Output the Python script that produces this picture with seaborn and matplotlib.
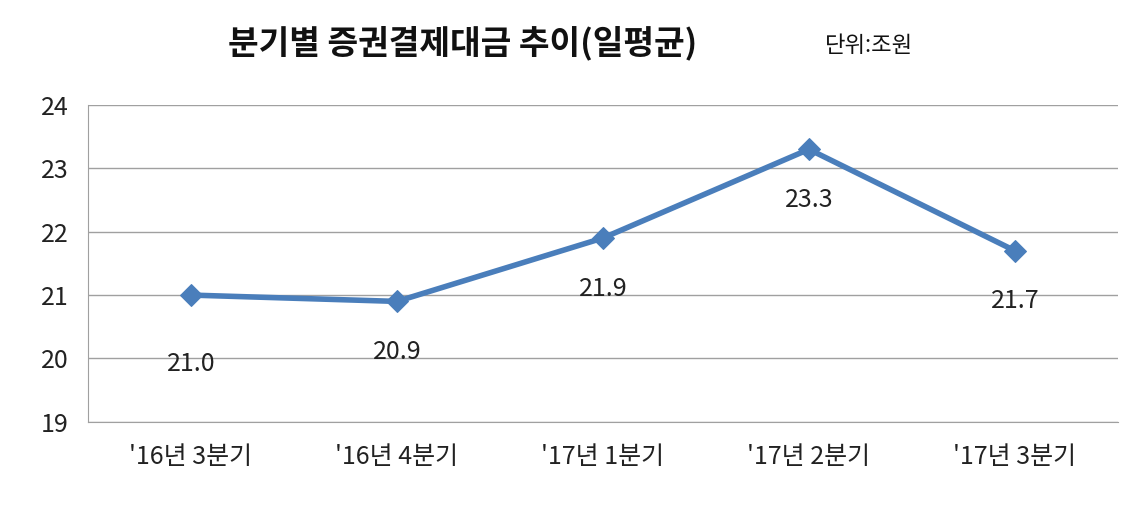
import seaborn as sns
import matplotlib.pyplot as plt
import pandas as pd

quarters = ["'16년 3분기", "'16년 4분기", "'17년 1분기", "'17년 2분기", "'17년 3분기"]
values = [21.0, 20.9, 21.9, 23.3, 21.7]
value_labels = ["21.0", "20.9", "21.9", "23.3", "21.7"]

sns.set_style("white")
plt.rcParams['font.family'] = ['Noto Sans CJK KR', 'DejaVu Sans']

df = pd.DataFrame({"q": range(len(quarters)), "v": values})

fig = plt.figure(figsize=(11.28, 5.07), dpi=100)
ax = fig.add_axes([0.078, 0.168, 0.913, 0.625])
sns.lineplot(data=df, x="q", y="v", ax=ax, color="#4A7EBB", linewidth=4,
             marker="D", markersize=11, markeredgecolor="#4A7EBB")

for i, (v, t) in enumerate(zip(values, value_labels)):
    off = 1.08 if i == 0 else 0.8
    ax.text(i, v - off, t, ha="center", va="center", fontsize=18, color="#222222")

ax.set_xlim(-0.5, 4.5)
ax.set_ylim(19, 24)
ax.set_yticks(range(19, 25))
ax.set_xticks(range(len(quarters)))
ax.set_xticklabels(quarters)
ax.tick_params(axis="both", labelsize=18, colors="#222222", length=0)
ax.tick_params(axis="x", pad=16)
ax.tick_params(axis="y", pad=14)
ax.set_xlabel("")
ax.set_ylabel("")
ax.yaxis.grid(True, color="#A0A0A0", linewidth=1)
for s in ["top", "right"]:
    ax.spines[s].set_visible(False)
for s in ["left", "bottom"]:
    ax.spines[s].set_color("#A0A0A0")

fig.text(0.41, 0.915, "분기별 증권결제대금 추이(일평균)", ha="center", va="center",
         fontsize=24, fontweight="bold", color="#111111")
fig.text(0.77, 0.91, "단위:조원", ha="center", va="center", fontsize=16, color="#111111")

fig.savefig("out.png", dpi=100)
